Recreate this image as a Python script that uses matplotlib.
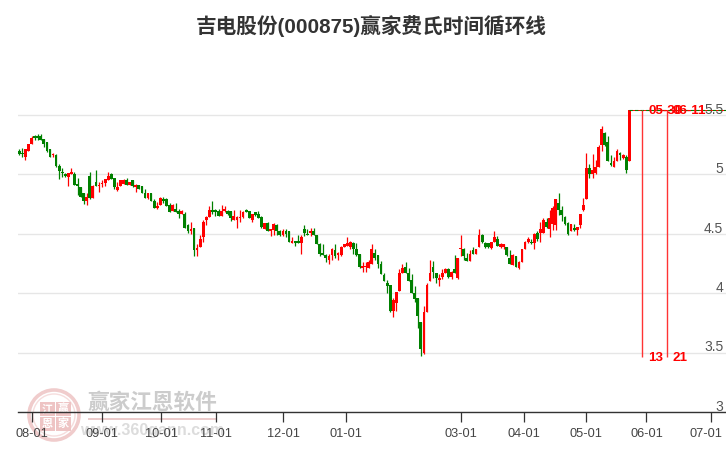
import numpy as np
import matplotlib
matplotlib.use('Agg')
import matplotlib.pyplot as plt
from matplotlib.patches import Circle, Rectangle
from matplotlib.transforms import ScaledTranslation

title = '吉电股份(000875)赢家费氏时间循环线'
opens = [5.20,5.18,5.15,5.20,5.26,5.32,5.32,5.32,5.30,5.27,5.21,5.16,5.16,5.07,5.02,5.00,4.98,5.00,5.00,4.92,4.89,4.84,4.78,4.99,4.80,4.94,4.90,4.92,4.93,4.95,5.00,4.97,4.87,4.90,4.92,4.95,4.91,4.95,4.89,4.91,4.90,4.84,4.80,4.84,4.78,4.72,4.74,4.79,4.79,4.74,4.69,4.71,4.69,4.67,4.67,4.57,4.52,4.55,4.36,4.39,4.47,4.62,4.64,4.70,4.70,4.69,4.65,4.69,4.69,4.69,4.62,4.62,4.63,
 4.64,4.70,4.69,4.62,4.68,4.67,4.64,4.54,4.59,4.52,4.53,4.57,4.52,4.49,4.52,4.52,4.42,4.44,4.44,4.42,4.54,4.50,4.51,4.52,4.49,4.41,4.34,4.32,4.28,4.32,4.36,4.32,4.32,4.39,4.40,4.39,4.42,4.37,4.33,4.21,4.22,4.21,4.25,4.34,4.32,4.25,4.15,4.09,4.07,3.85,3.92,4.02,4.17,4.22,4.17,4.11,4.00,3.96,3.76,3.50,3.84,4.10,4.22,4.17,4.11,4.14,4.17,4.20,4.14,4.20,4.13,4.37,4.37,4.30,4.27,4.36,4.33,4.39,
 4.49,4.42,4.42,4.38,4.43,4.46,4.39,4.39,4.39,4.30,4.24,4.31,4.21,4.26,4.37,4.43,4.43,4.42,4.51,4.51,4.51,4.60,4.54,4.58,4.57,4.76,4.70,4.64,4.59,4.52,4.55,4.53,4.57,4.70,4.79,5.05,5.00,5.01,5.06,5.25,5.35,5.27,5.10,5.06,5.11,5.18,5.14,5.15,5.11]
highs = [5.21,5.22,5.21,5.26,5.32,5.33,5.34,5.34,5.30,5.27,5.21,5.18,5.17,5.09,5.05,5.01,5.01,5.05,5.02,4.97,4.89,4.84,4.84,5.02,4.91,5.04,4.94,4.95,4.96,5.02,5.01,4.97,4.94,4.95,4.96,4.97,4.94,4.95,4.92,4.91,4.90,4.88,4.84,4.84,4.79,4.77,4.81,4.81,4.80,4.76,4.75,4.76,4.71,4.70,4.68,4.58,4.60,4.55,4.41,4.49,4.62,4.65,4.73,4.78,4.71,4.71,4.74,4.73,4.70,4.69,4.70,4.65,4.70,
 4.69,4.71,4.69,4.67,4.68,4.69,4.65,4.59,4.60,4.54,4.59,4.58,4.53,4.54,4.54,4.52,4.47,4.44,4.49,4.49,4.57,4.54,4.55,4.55,4.49,4.42,4.41,4.33,4.33,4.38,4.41,4.35,4.40,4.41,4.47,4.44,4.43,4.42,4.33,4.26,4.26,4.28,4.41,4.37,4.32,4.27,4.17,4.11,4.07,3.96,4.01,4.20,4.25,4.26,4.21,4.16,4.06,3.96,3.76,3.89,4.09,4.28,4.27,4.17,4.16,4.20,4.21,4.21,4.19,4.32,4.30,4.49,4.38,4.34,4.36,4.39,4.37,4.54,
 4.50,4.43,4.42,4.43,4.52,4.48,4.42,4.41,4.39,4.36,4.33,4.31,4.27,4.37,4.44,4.47,4.46,4.51,4.52,4.60,4.63,4.63,4.70,4.73,4.79,4.84,4.73,4.65,4.60,4.58,4.58,4.56,4.67,4.80,5.18,5.09,5.17,5.12,5.25,5.41,5.36,5.32,5.16,5.15,5.21,5.19,5.17,5.16,5.54]
lows = [5.16,5.15,5.12,5.20,5.26,5.29,5.29,5.29,5.23,5.19,5.15,5.15,5.06,4.96,4.98,4.98,4.90,5.00,4.91,4.83,4.81,4.75,4.74,4.79,4.80,4.90,4.85,4.89,4.90,4.95,4.96,4.88,4.86,4.90,4.92,4.91,4.91,4.89,4.85,4.88,4.84,4.80,4.79,4.78,4.72,4.71,4.74,4.76,4.73,4.68,4.69,4.68,4.63,4.67,4.55,4.51,4.50,4.31,4.31,4.39,4.43,4.57,4.64,4.67,4.65,4.65,4.65,4.68,4.66,4.61,4.62,4.55,4.60,
 4.63,4.68,4.63,4.60,4.65,4.63,4.55,4.54,4.52,4.48,4.49,4.49,4.48,4.48,4.47,4.43,4.42,4.40,4.42,4.33,4.48,4.49,4.48,4.49,4.41,4.31,4.32,4.26,4.25,4.28,4.30,4.28,4.31,4.39,4.40,4.37,4.33,4.31,4.21,4.18,4.18,4.21,4.25,4.28,4.21,4.16,4.10,4.00,3.84,3.80,3.85,4.02,4.17,4.17,4.10,4.00,3.93,3.71,3.47,3.49,3.84,4.10,4.13,4.09,4.06,4.12,4.17,4.13,4.12,4.17,4.12,4.31,4.28,4.27,4.27,4.33,4.33,4.39,
 4.42,4.38,4.38,4.37,4.43,4.40,4.38,4.37,4.31,4.25,4.24,4.22,4.20,4.26,4.37,4.42,4.41,4.37,4.44,4.43,4.51,4.55,4.47,4.53,4.53,4.66,4.61,4.57,4.49,4.52,4.52,4.49,4.55,4.69,4.79,4.97,4.97,5.00,5.06,5.20,5.24,5.11,5.07,5.06,5.11,5.12,5.13,5.01,5.11]
closes = [5.17,5.17,5.21,5.26,5.31,5.31,5.31,5.29,5.26,5.20,5.15,5.16,5.07,5.03,5.01,4.99,5.01,5.02,4.91,4.90,4.81,4.78,4.81,4.80,4.90,4.90,4.90,4.92,4.96,4.99,4.96,4.89,4.89,4.95,4.95,4.91,4.94,4.90,4.91,4.88,4.84,4.80,4.84,4.78,4.72,4.73,4.80,4.78,4.73,4.68,4.74,4.68,4.67,4.69,4.55,4.52,4.54,4.36,4.38,4.46,4.60,4.64,4.70,4.68,4.68,4.65,4.69,4.71,4.67,4.63,4.65,4.64,4.64,
 4.68,4.68,4.63,4.67,4.66,4.63,4.56,4.59,4.52,4.54,4.58,4.52,4.49,4.52,4.50,4.43,4.44,4.42,4.42,4.47,4.51,4.49,4.52,4.49,4.41,4.33,4.32,4.30,4.31,4.37,4.31,4.34,4.39,4.41,4.42,4.43,4.37,4.32,4.22,4.23,4.23,4.26,4.37,4.30,4.25,4.16,4.10,4.06,3.85,3.94,4.01,4.17,4.21,4.17,4.10,4.00,3.95,3.81,3.53,3.84,4.07,4.17,4.18,4.13,4.13,4.17,4.20,4.14,4.18,4.17,4.30,4.38,4.31,4.27,4.33,4.33,4.37,4.49,
 4.43,4.39,4.39,4.43,4.47,4.40,4.41,4.41,4.32,4.25,4.32,4.22,4.26,4.37,4.43,4.46,4.42,4.50,4.46,4.54,4.62,4.56,4.63,4.72,4.79,4.70,4.66,4.58,4.50,4.58,4.53,4.56,4.67,4.74,5.05,5.00,5.04,5.06,5.23,5.38,5.25,5.11,5.08,5.11,5.20,5.16,5.16,5.04,5.54]

tick_pos = [4.2, 27.1, 46.3, 64.3, 86.1, 106.6, 144.1, 164.6, 184.9, 204.6, 225.5]
tick_labels = ['08-01','09-01','10-01','11-01','12-01','01-01','03-01','04-01','05-01','06-01','07-01']
y_ticks = [3, 3.5, 4, 4.5, 5, 5.5]
y_labels = ['3', '3.5', '4', '4.5', '5', '5.5']
cycle_pos = [203.3, 211.3]
cycle_dates = ['05-30', '06-11']
cycle_counts = ['13', '21']
level = 5.54
cycle_bottom = 3.46

plt.rcParams['font.family'] = ['Liberation Sans', 'Noto Sans CJK SC', 'DejaVu Sans']
W, H = 726, 450
fig = plt.figure(figsize=(W/100, H/100), dpi=100, facecolor='white')

# watermark layer in pixel coordinates
wm = fig.add_axes([0, 0, 1, 1], zorder=-1)
wm.set_xlim(0, W); wm.set_ylim(H, 0); wm.axis('off')
wm.add_patch(Circle((54, 415), 25, fc='none', ec='#f0cccc', lw=2.6))
wm.add_patch(Circle((54, 415), 21, fc='none', ec='#f6dddd', lw=1))
cjk = ['Noto Sans CJK SC', 'DejaVu Sans']
for (x, y, c) in [(40, 402, '江'), (56, 402, '赢'), (40, 417, '恩'), (56, 417, '家')]:
    wm.add_patch(Rectangle((x, y), 14.5, 13.5, fc='#eec4c4', ec='none'))
    wm.text(x+7.2, y+6.5, c, color='white', fontsize=8, ha='center', va='center', family=cjk, fontweight='bold')
wm.text(152.5, 402, '赢家江恩软件', color='#cccccc', fontsize=15.6, ha='center', va='center', family=cjk, fontweight='bold')
wm.add_patch(Rectangle((88, 418), 129, 2, fc='#eccccc', ec='none'))
wm.text(152, 431, 'www.360gann.com', color='#dcdcdc', fontsize=11.5, ha='center', va='center', fontweight='bold')

LEFT, RIGHT, BOTTOM, TOP = 18, 726, 412, 60
ax = fig.add_axes([LEFT/W, 1-BOTTOM/H, (RIGHT-LEFT)/W, (BOTTOM-TOP)/H], zorder=1)
ax.patch.set_visible(False)
n = len(opens)
step = 610/(n-1)
ax.set_xlim((LEFT-19.3)/step, (RIGHT-19.3)/step)
ax.set_ylim(3, 3+(BOTTOM-TOP)/118.8)

o, h, l, c = map(np.array, (opens, highs, lows, closes))
x = np.arange(n)
up = c >= o
col = np.where(up, '#ff0000', '#008000')
ax.vlines(x, l, h, colors=col, lw=0.9, zorder=3)
ax.bar(x, np.maximum(np.abs(c-o), 0.008), bottom=np.minimum(o, c), width=0.9, color=col, lw=0, zorder=4)

for s in ['left', 'right', 'top']:
    ax.spines[s].set_visible(False)
ax.spines['bottom'].set_color('#333333')
ax.spines['bottom'].set_linewidth(1.0)

ax.set_yticks(y_ticks)
ax.set_yticklabels([])
ax.tick_params(axis='y', length=0)
ax.yaxis.grid(True, color='#e6e6e6', lw=1.0, zorder=0)
ax.set_axisbelow(True)
ax.set_xticks(tick_pos)
ax.set_xticklabels(tick_labels, fontsize=9.2, color='#444444')
ax.tick_params(axis='x', length=7, width=0.9, color='#333333', pad=4.6)
lab = ax.get_xticklabels()[-1]
lab.set_transform(lab.get_transform() + ScaledTranslation(-3/72, 0, fig.dpi_scale_trans))

for v, t in zip(y_ticks, y_labels):
    ax.annotate(t, (1, v), xycoords=('axes fraction', 'data'), xytext=(-2, 3.8), textcoords='offset points',
                ha='right', va='center', fontsize=10, color='#555555', zorder=2)

ax.plot([x[-1], ax.get_xlim()[1]], [level, level], color='#ff0000', lw=0.7, zorder=5)
ax.plot([x[-1], ax.get_xlim()[1]], [level, level], color='#008000', lw=0.8, ls=(0, (3, 2)), zorder=5)
ax.vlines(cycle_pos, cycle_bottom, level, color='#ff3333', lw=1.0, zorder=5)
for p, d, k in zip(cycle_pos, cycle_dates, cycle_counts):
    ax.annotate(d, (p, level), xytext=(4.0, -0.7), textcoords='offset points', ha='left', va='center',
                color='#ff0000', fontsize=9.6, fontweight='bold', zorder=6)
    ax.annotate(k, (p, cycle_bottom), xytext=(4.0, -0.3), textcoords='offset points', ha='left', va='center',
                color='#ff0000', fontsize=9.6, fontweight='bold', zorder=6)

fig.text(371/W, 1-26/H, title, ha='center', va='center', fontsize=14.85, fontweight='bold', color='#333333')
fig.savefig('out.png', dpi=100)
